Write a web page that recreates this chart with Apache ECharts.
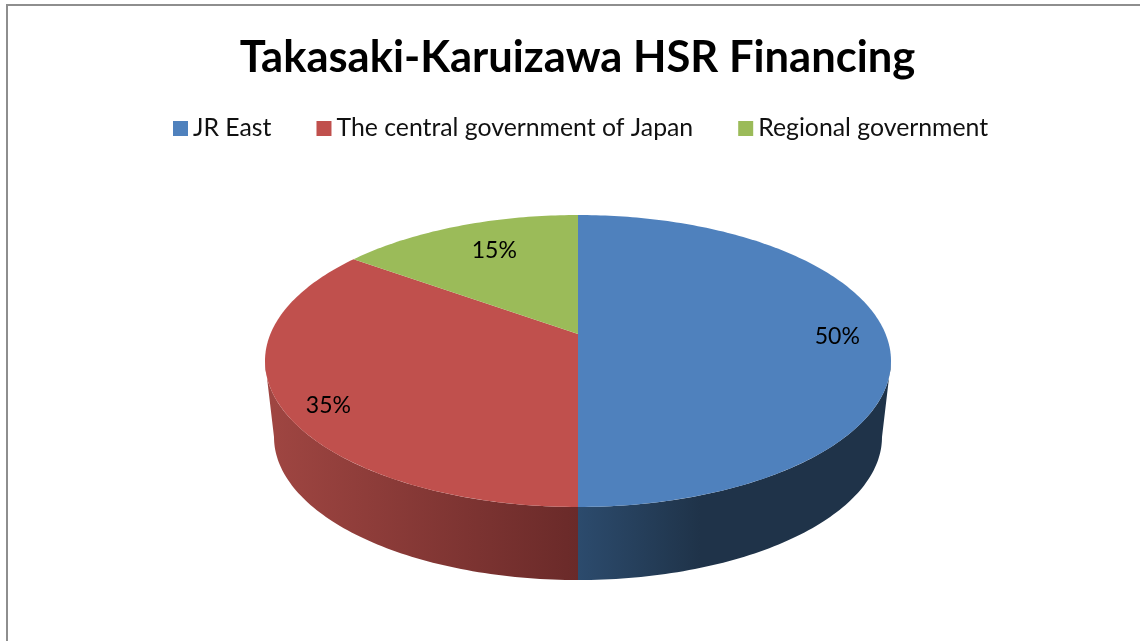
<!DOCTYPE html>
<html lang="en">
  <head>
    <meta charset="UTF-8" />
    <title>Takasaki-Karuizawa HSR Financing</title>
    <script src="https://cdn.jsdelivr.net/npm/echarts@6/dist/echarts.min.js"></script>
    <style>
      html, body { margin: 0; padding: 0; background: #fff; }
    </style>
  </head>

  <body>
    <div id="main" style="width: 1140px; height: 641px"></div>

    <script type="text/javascript">
      // chart data
      var chartTitle = "Takasaki-Karuizawa HSR Financing";
      var sliceNames = ["JR East", "The central government of Japan", "Regional government"];
      var sliceValues = [50, 35, 15];

      // colours
      var topColors = ["#4f81bd", "#c0504d", "#9bbb59"];
      var sideStops = [
        [[0, "#2c4b6d"], [0.39, "#1f3349"], [1, "#1f3349"]],
        [[0, "#a04642"], [1, "#6a2a29"]],
        [[0, "#7a9446"], [1, "#4f602c"]],
      ];

      // the pie is a tilted disc, so the centre sits above the middle of the ellipse
      var tilt = 0.185;
      var topRim = { cx: 578, cy: 361, rx: 313, ry: 146 };
      var bottomRim = { cx: 578, cy: 437, rx: 304, ry: 143 };
      // where the label goes inside its slice: radius, share of the slice's sweep
      var labelPlace = [[0.84, 0.508], [0.875, 0.46], [0.735, 0.545]];

      var myChart = echarts.init(document.getElementById("main"));

      // angle is clockwise from the top of the disc, r is 0 to 1
      function project(angle, r, rim) {
        var th = (angle * Math.PI) / 180;
        var u = r * Math.sin(th);
        var v = r * Math.cos(th);
        var d = 1 + tilt * v;
        return [
          rim.cx + (rim.rx * u * Math.sqrt(1 - tilt * tilt)) / d,
          rim.cy - (rim.ry * (v + tilt)) / d,
        ];
      }

      function arc(from, to, rim) {
        var pts = [];
        var steps = Math.max(2, Math.ceil(Math.abs(to - from)));
        for (var i = 0; i <= steps; i++) {
          pts.push(project(from + ((to - from) * i) / steps, 1, rim));
        }
        return pts;
      }

      var total = sliceValues.reduce(function (a, b) { return a + b; }, 0);
      // front part of the disc, the side wall only shows between these
      var frontFrom = (Math.acos(-tilt) * 180) / Math.PI;
      var frontTo = 360 - frontFrom;

      function renderSlice(params, api) {
        var i = params.seriesIndex;
        var before = 0;
        for (var j = 0; j < i; j++) before += sliceValues[j];
        var start = (before / total) * 360;
        var end = start + (api.value(0) / total) * 360;
        var children = [];

        var lo = Math.max(start, frontFrom);
        var hi = Math.min(end, frontTo);
        if (lo < hi) {
          children.push({
            type: "polygon",
            shape: { points: arc(lo, hi, topRim).concat(arc(hi, lo, bottomRim)) },
            style: {
              fill: new echarts.graphic.LinearGradient(0, 0, 1, 0,
                sideStops[i].map(function (s) { return { offset: s[0], color: s[1] }; })),
            },
          });
        }

        children.push({
          type: "polygon",
          shape: { points: [project(0, 0, topRim)].concat(arc(start, end, topRim)) },
          style: { fill: topColors[i] },
        });

        var at = project(start + (end - start) * labelPlace[i][1], labelPlace[i][0], topRim);
        children.push({
          type: "text",
          style: {
            text: api.value(0) + "%",
            x: at[0],
            y: at[1],
            align: "center",
            verticalAlign: "middle",
            fill: "#000",
            fontFamily: "Lato",
            fontSize: 23,
          },
        });

        return { type: "group", children: children };
      }

      var option = {
        backgroundColor: "#fff",
        animation: false,
        title: {
          text: chartTitle,
          left: 572.5,
          top: 31,
          textAlign: "center",
          textStyle: { fontFamily: "Lato", fontWeight: "bold", fontSize: 43.5, color: "#000" },
        },
        legend: {
          left: 173,
          top: 116,
          padding: 0,
          icon: "rect",
          itemWidth: 15,
          itemHeight: 15,
          itemGap: 45,
          data: sliceNames,
          textStyle: { fontFamily: "Lato", fontSize: 24.8, color: "#111" },
        },
        graphic: [
          {
            type: "rect",
            silent: true,
            shape: { x: 7, y: 5, width: 1300, height: 800 },
            style: { fill: "none", stroke: "#8e8e8e", lineWidth: 2 },
          },
        ],
        series: sliceNames.map(function (name, i) {
          return {
            type: "custom",
            name: name,
            coordinateSystem: "none",
            renderItem: renderSlice,
            itemStyle: { color: topColors[i] },
            data: [sliceValues[i]],
          };
        }),
      };

      myChart.setOption(option);
    </script>
  </body>
</html>
